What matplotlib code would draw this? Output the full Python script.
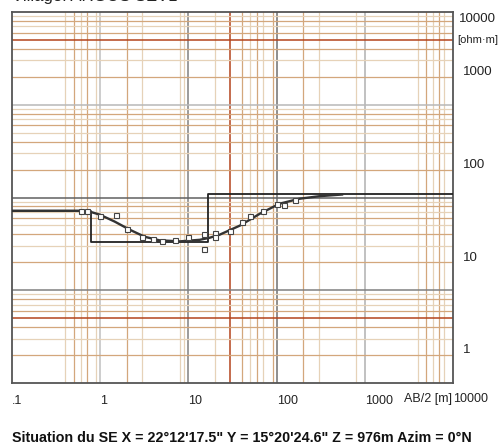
import matplotlib.pyplot as plt
import numpy as np

plt.rcParams['font.family'] = ['Liberation Sans', 'DejaVu Sans']

# mesures : AB/2 [m] et resistivite apparente [ohm.m]
ab2_obs = [0.6, 0.7, 1.0, 1.5, 2, 3, 4, 5, 7, 10, 15, 15, 20, 20, 30, 40, 50, 70, 100, 120, 160]
rho_obs = [31.8, 31.5, 27.9, 28.6, 20.4, 16.7, 16.0, 15.2, 15.6, 16.7, 18.0, 12.4,
           18.6, 16.7, 19.5, 24.1, 27.9, 31.5, 38.2, 37.3, 41.5]

# courbe calculee
ab2_calc = [0.1, 0.59, 0.76, 0.99, 1.46, 2.17, 3.2, 4.7, 8.0, 13.5, 17.4, 22.6,
            38.4, 64.6, 108, 181, 304, 552]
rho_calc = [32.1, 32.1, 31.4, 29.1, 24.5, 20.0, 16.8, 15.4, 15.0, 15.6, 16.4, 17.7,
            22.2, 29.8, 38.2, 43.2, 46.0, 48.0]

# modele 3 couches
layer_rho = [32.1, 14.6, 49.0]
layer_depth = [0.78, 16.7]

x_ticks = [0.1, 1, 10, 100, 1000]
x_ticklabels = ['.1', '1', '10', '100', '1000']
y_ticks = [1, 10, 100, 1000]
y_ticklabels = ['1', '10', '100', '1000']

caption = 'Situation du SE X = 22°12\'17.5" Y = 15°20\'24.6" Z = 976m Azim = 0°N'
title = 'Village: ARGOS SEV1'

fig = plt.figure(figsize=(5.01, 4.45), dpi=100)
ax = fig.add_axes([12 / 501, 62 / 445, 441 / 501, 371 / 445])
ax.set_xscale('log')
ax.set_yscale('log')
y0 = 10 ** -0.351
ax.set_xlim(0.1, 1e4)
ax.set_ylim(y0, y0 * 1e4)

light = '#e6d2b8'
dark = '#d3a77c'
red = '#b4441c'

# quadrillage vertical
xg_light = [0.4, 0.6, 0.9, 3, 8, 9, 20, 50, 70, 300, 800, 4000, 6000, 8000]
xg_dark = [0.5, 0.7, 2, 40, 60, 90, 200, 5000, 7000]
for v in xg_light:
    ax.axvline(v, color=light, lw=0.9, zorder=0)
for v in xg_dark:
    ax.axvline(v, color=dark, lw=0.9, zorder=0)
ax.axvline(30, color=red, lw=1.1, zorder=0)
for v, c in zip([1, 10, 100, 1000], ['#c0c0c0', '#808080', '#707070', '#b0b0b0']):
    ax.axvline(v, color=c, lw=1.1, zorder=0)

# quadrillage horizontal
for k in range(4):
    for m in range(2, 10):
        if m == 5 and k in (0, 3):
            continue
        c = dark if m in (2, 4, 6, 8) else light
        ax.axhline(y0 * m * 10 ** k, color=c, lw=0.9, zorder=0)
for v in [5, 5000]:
    ax.axhline(y0 * v, color=red, lw=1.1, zorder=0)
for v, c in zip([10, 100, 1000], ['#808080', '#606060', '#b8b8b8']):
    ax.axhline(y0 * v, color=c, lw=1.1, zorder=0)

# modele
ax.step(np.r_[0.1, layer_depth, 1e4], np.r_[layer_rho, layer_rho[-1]], where='post',
        color='#222222', lw=1.3, zorder=3)
ax.plot(ab2_calc, rho_calc, color='#333333', lw=1.7, zorder=4)
ax.plot(ab2_obs, rho_obs, 's', ms=3.6, mfc='white', mec='#444444', mew=0.8, zorder=5)

for s in ax.spines.values():
    s.set_color('#555555')
    s.set_linewidth(1.3)

ax.minorticks_off()
ax.set_xticks(x_ticks)
ax.set_xticklabels(x_ticklabels, ha='left')
ax.set_yticks(y_ticks)
ax.set_yticklabels(y_ticklabels)
ax.yaxis.tick_right()
ax.tick_params(axis='x', length=0, pad=9, labelsize=9, colors='#222222')
ax.tick_params(axis='y', length=0, pad=7, labelsize=9.5, colors='#222222')
for lab in ax.get_yticklabels():
    lab.set_verticalalignment('center')

ax.annotate('10000', xy=(1, 1), xycoords='axes fraction', xytext=(6, -1),
            textcoords='offset pixels', ha='left', va='top', fontsize=9.5, color='#222222')
ax.annotate('[ohm·m]', xy=(1, 1), xycoords='axes fraction', xytext=(4, -28),
            textcoords='offset pixels', ha='left', va='center', fontsize=8, color='#222222')
ax.annotate('AB/2 [m]', xy=(1, 0), xycoords='axes fraction', xytext=(-1, -10),
            textcoords='offset pixels', ha='right', va='top', fontsize=9, color='#222222')
ax.annotate('10000', xy=(1, 0), xycoords='axes fraction', xytext=(0, -10),
            textcoords='offset pixels', ha='left', va='top', fontsize=9, color='#222222')

fig.text(12 / 501, 1 - 4 / 445, title, fontsize=12, color='#222222', va='bottom')
fig.text(12 / 501, 0, caption, fontsize=10.3, fontweight='bold', color='#111111', va='bottom')

fig.savefig('out.png', dpi=100)
